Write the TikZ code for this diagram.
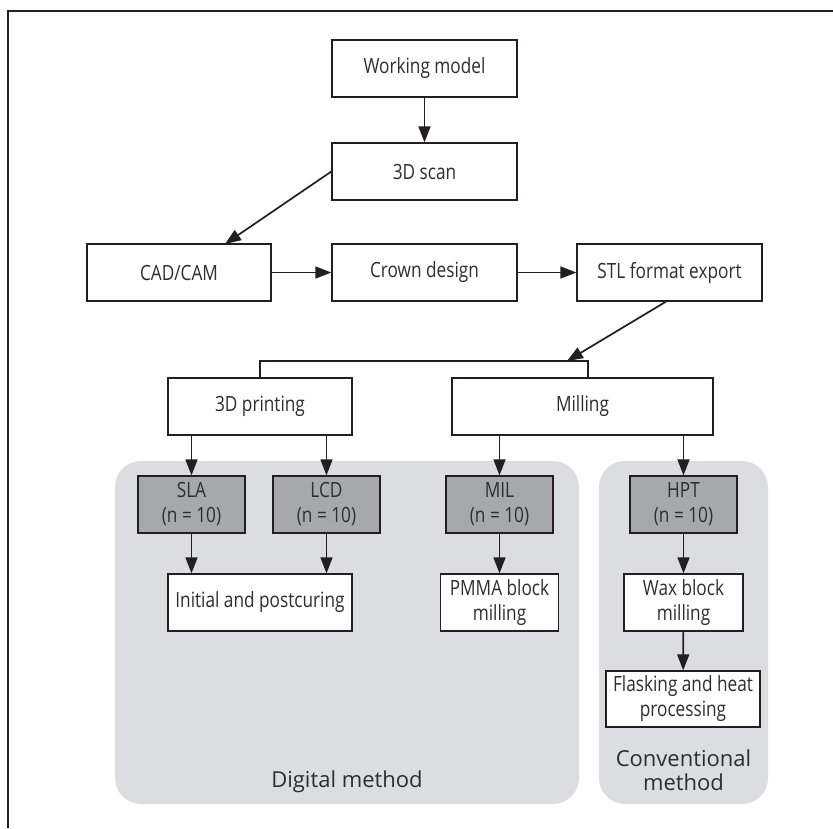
\documentclass[tikz,border=0pt]{standalone}
\usepackage{fontspec}
\setmainfont{Open Sans}
\newfontfamily\boxfont[FakeStretch=0.82]{Open Sans}
\usetikzlibrary{arrows.meta}
\definecolor{txt}{HTML}{2E2E2E}
\definecolor{edge}{HTML}{231F20}
\definecolor{panel}{HTML}{DCDDE0}
\definecolor{darkbox}{HTML}{A6A8AB}
\begin{document}
\begin{tikzpicture}[x=1pt,y=-1pt,
  box/.style={draw=edge,line width=1.3pt,fill=white,minimum height=57pt,inner sep=0pt,
    text=txt,align=center,font=\boxfont\fontsize{21}{25}\selectfont},
  graybox/.style={box,fill=darkbox},
  conn/.style={draw=edge,line width=1.7pt},
  arr/.style={conn,-{Triangle[length=16pt,width=12pt]}},
  paneltxt/.style={text=txt,align=center,font=\fontsize{22}{24}\selectfont}]
\useasboundingbox (0,0) rectangle (833,828);
% frame
\draw[edge,line width=1.5pt] (833,11) -- (8,11) -- (8,828);
% panels
\fill[panel,rounded corners=26pt] (115,461) rectangle (579,804);
\fill[panel,rounded corners=26pt] (599,461) rectangle (768,804);
\node[paneltxt] (dig) at (347,782) {Digital method};
\node[paneltxt] (conv) at (683.5,770) {Conventional\\method};
% nodes
\node[box,minimum width=185pt] (wm) at (424.5,68.5) {Working model};
\node[box,minimum width=185pt] (scan) at (424.5,171.5) {3D scan};
\node[box,minimum width=184pt] (cad) at (179,272.5) {CAD/CAM};
\node[box,minimum width=185pt] (crown) at (424.5,272.5) {Crown design};
\node[box,minimum width=185pt] (stl) at (669.5,272.5) {STL format export};
\node[box,minimum width=184pt] (print) at (260,406.5) {3D printing};
\node[box,minimum width=261pt] (mill) at (582.5,406.5) {Milling};
\node[graybox,minimum width=107pt] (sla) at (191.5,504.5) {SLA\\(n = 10)};
\node[graybox,minimum width=107pt] (lcd) at (326.5,504.5) {LCD\\(n = 10)};
\node[graybox,minimum width=107pt] (mil) at (499.5,504.5) {MIL\\(n = 10)};
\node[graybox,minimum width=107pt] (hpt) at (683.5,504.5) {HPT\\(n = 10)};
\node[box,minimum width=184pt] (init) at (260,602.5) {Initial and postcuring};
\node[box,minimum width=118pt] (pmma) at (499.5,602.5) {PMMA block\\milling};
\node[box,minimum width=119pt] (wax) at (683.5,602.5) {Wax block\\milling};
\node[box,minimum width=154pt,minimum height=56pt] (flask) at (683,699) {Flasking and heat\\processing};
% coordinates
\coordinate (cadin) at (225,244);
\coordinate (jin) at (567,361);
\coordinate (jl) at (260,361);
\coordinate (jr) at (588,361);
\coordinate (stlout) at (667,301);
% connectors
\draw[arr] (wm) -- (scan);
\draw[arr] (scan.west) -- (cadin);
\draw[arr] (cad) -- (crown);
\draw[arr] (crown) -- (stl);
\draw[arr] (stlout) -- (jin);
\draw[conn] (print.north) -- (jl) -- (jr) -- (jr |- mill.north);
\draw[arr] (sla.north |- print.south) -- (sla.north);
\draw[arr] (lcd.north |- print.south) -- (lcd.north);
\draw[arr] (mil.north |- mill.south) -- (mil.north);
\draw[arr] (hpt.north |- mill.south) -- (hpt.north);
\draw[arr] (sla.south) -- (sla.south |- init.north);
\draw[arr] (lcd.south) -- (lcd.south |- init.north);
\draw[arr] (mil) -- (pmma);
\draw[arr] (hpt) -- (wax);
\draw[arr] (wax) -- (flask);
\end{tikzpicture}
\end{document}
